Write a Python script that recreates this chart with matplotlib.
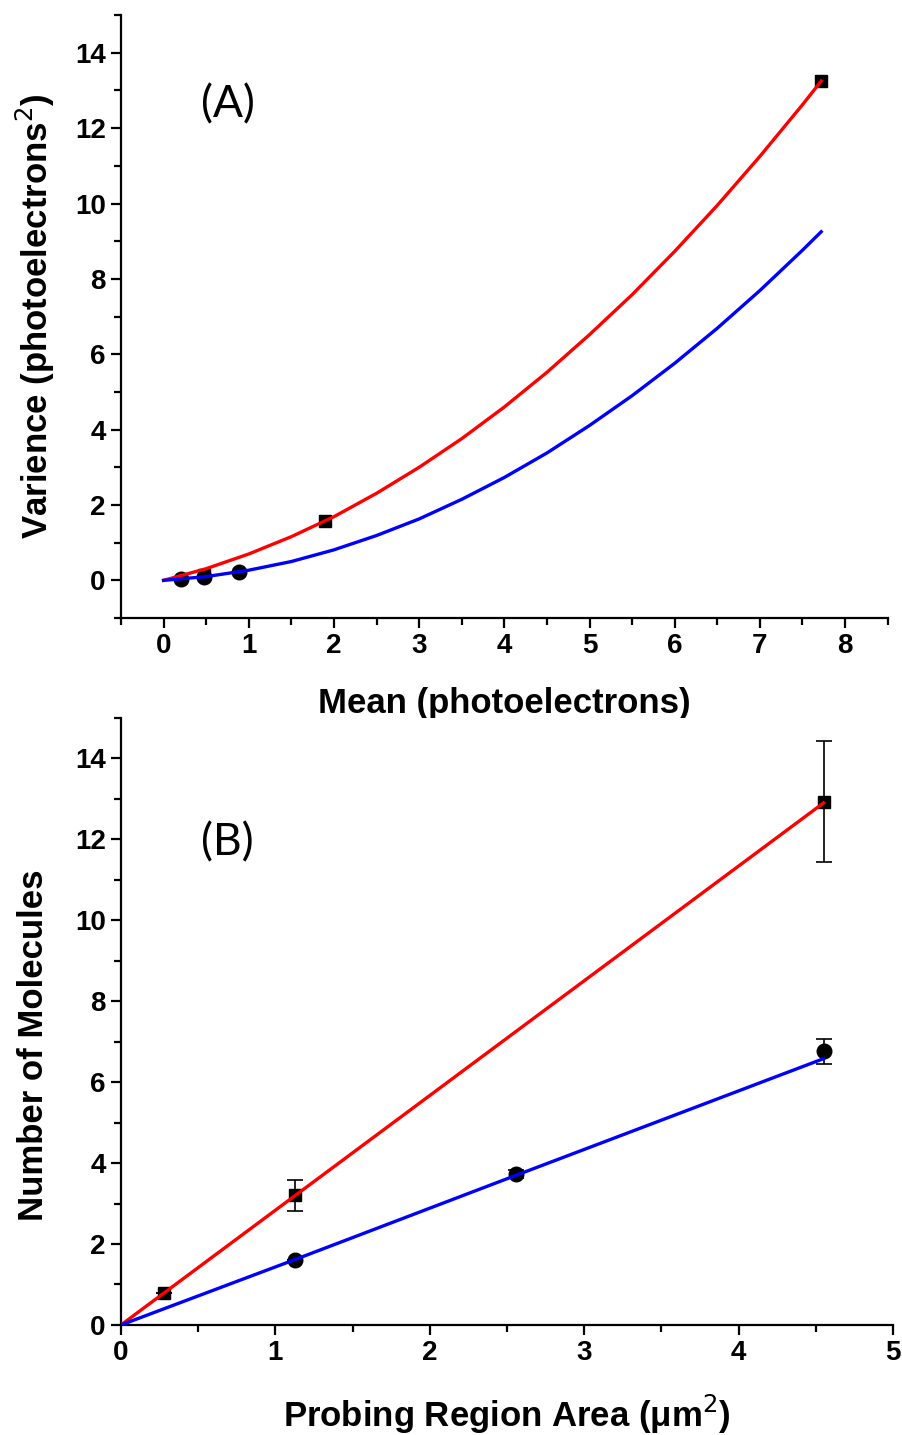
import matplotlib
matplotlib.use("Agg")
import matplotlib.pyplot as plt
from matplotlib.ticker import MultipleLocator

# -------------------------
# data (A): mean vs variance
# -------------------------
sq_mean = [0.48, 1.90, 7.72]
sq_var = [0.15, 1.58, 13.25]
ci_mean = [0.20, 0.48, 0.88]
ci_var = [0.03, 0.10, 0.22]

# fitted curves
fit_mean = [0, 0.5, 1, 1.5, 2, 2.5, 3, 3.5, 4, 4.5, 5, 5.5, 6, 6.5, 7, 7.5, 7.72]
fit_red = [0, 0.31, 0.70, 1.16, 1.69, 2.31, 3.00, 3.76, 4.60, 5.52, 6.52,
           7.58, 8.73, 9.95, 11.25, 12.62, 13.25]
fit_blue = [0, 0.10, 0.27, 0.50, 0.81, 1.19, 1.63, 2.15, 2.73, 3.38, 4.11,
            4.90, 5.76, 6.69, 7.69, 8.76, 9.25]

# -------------------------
# data (B): area vs number of molecules
# -------------------------
sq_area = [0.28, 1.13, 4.55]
sq_num = [0.80, 3.20, 12.93]
sq_err = [0.0, 0.375, 1.49]
ci_area = [1.13, 2.56, 4.55]
ci_num = [1.60, 3.72, 6.76]
ci_err = [0.0, 0.10, 0.31]

line_area_red = [0, 4.55]
line_num_red = [0, 12.90]
line_area_blue = [0, 1.13, 2.56, 4.55]
line_num_blue = [0, 1.62, 3.70, 6.58]

plt.rcParams["font.family"] = ["Liberation Sans", "DejaVu Sans"]

fig = plt.figure(figsize=(9.03, 14.35), dpi=100)
ax1 = fig.add_axes([0.134, 0.5693, 0.849, 0.4202])
ax2 = fig.add_axes([0.134, 0.0767, 0.855, 0.4230])

TICK_FS = 20
LABEL_FS = 25


def style(ax):
    for s in ("top", "right"):
        ax.spines[s].set_visible(False)
    for s in ("left", "bottom"):
        ax.spines[s].set_linewidth(1.6)
    ax.tick_params(which="major", direction="out", length=7, width=1.6,
                   labelsize=TICK_FS, pad=4)
    ax.tick_params(which="minor", direction="out", length=5, width=1.6)
    for lab in ax.get_xticklabels() + ax.get_yticklabels():
        lab.set_fontweight("bold")


# ---- panel A ----
ax1.plot(ci_mean, ci_var, "o", color="black", ms=10.5, zorder=2)
ax1.plot(sq_mean, sq_var, "s", color="black", ms=9, zorder=2)
ax1.plot(fit_mean, fit_red, "-", color="#ff0000", lw=2.4, zorder=3)
ax1.plot(fit_mean, fit_blue, "-", color="#0000ff", lw=2.4, zorder=3)
ax1.set_xlim(-0.5, 8.5)
ax1.set_ylim(-1, 15)
ax1.set_xticks(range(0, 9))
ax1.xaxis.set_minor_locator(MultipleLocator(0.5))
ax1.set_yticks(range(0, 15, 2))
ax1.yaxis.set_minor_locator(MultipleLocator(1))
style(ax1)
ax1.set_xlabel("Mean (photoelectrons)", fontsize=LABEL_FS, fontweight="bold",
               labelpad=20)
ax1.set_ylabel("Varience (photoelectrons$^2$)", fontsize=LABEL_FS,
               fontweight="bold", labelpad=13)
ax1.text(0.75, 12.63, "(A)", fontsize=32, family=["Lato", "DejaVu Sans"],
         ha="center", va="center")

# ---- panel B ----
ax2.errorbar(sq_area, sq_num, yerr=sq_err, fmt="s", color="black", ms=9,
             elinewidth=1.2, capsize=6, capthick=1.2, zorder=2)
ax2.errorbar(ci_area, ci_num, yerr=ci_err, fmt="o", color="black", ms=10.5,
             elinewidth=1.2, capsize=6, capthick=1.2, zorder=2)
ax2.plot(line_area_red, line_num_red, "-", color="#ff0000", lw=2.4, zorder=3)
ax2.plot(line_area_blue, line_num_blue, "-", color="#0000ff", lw=2.4, zorder=3)
ax2.set_xlim(0, 5)
ax2.set_ylim(0, 15)
ax2.set_xticks(range(0, 6))
ax2.xaxis.set_minor_locator(MultipleLocator(0.5))
ax2.set_yticks(range(0, 15, 2))
ax2.yaxis.set_minor_locator(MultipleLocator(1))
style(ax2)
ax2.set_xlabel("Probing Region Area (\u03bcm$^2$)", fontsize=LABEL_FS,
               fontweight="bold", labelpad=19)
ax2.set_ylabel("Number of Molecules", fontsize=LABEL_FS, fontweight="bold")
ax2.yaxis.set_label_coords(-0.092, 0.461)
ax2.text(0.69, 11.92, "(B)", fontsize=32, family=["Lato", "DejaVu Sans"],
         ha="center", va="center")

fig.savefig("out.png", dpi=100)
